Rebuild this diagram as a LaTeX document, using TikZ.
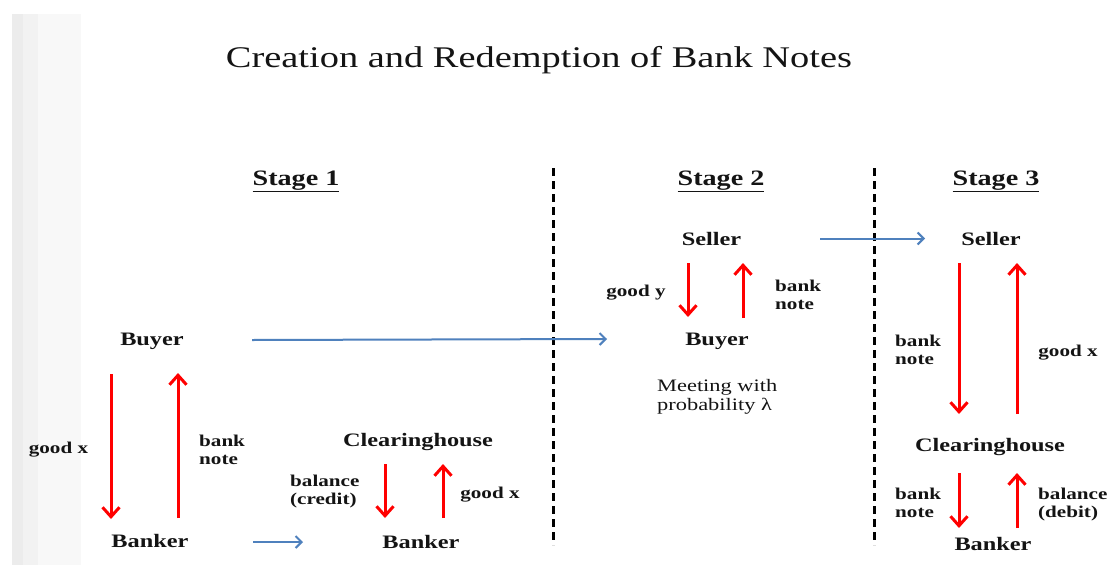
\documentclass[tikz,border=0pt]{standalone}
\usepackage{fontspec}
\setmainfont{Liberation Serif}[FakeStretch=1.28]
\usetikzlibrary{arrows.meta}
\definecolor{redA}{RGB}{255,0,0}
\definecolor{blueA}{RGB}{79,129,189}
\definecolor{stripA}{RGB}{236,236,236}
\definecolor{stripB}{RGB}{242,242,242}
\definecolor{stripC}{RGB}{248,248,248}
\definecolor{inkA}{RGB}{20,20,20}
\begin{document}
\begin{tikzpicture}[x=1pt,y=-1pt,
  lbl/.style={font=\bfseries\fontsize{19}{22}\selectfont, text=inkA, inner sep=0pt},
  sml/.style={font=\bfseries\fontsize{16.5}{18.3}\selectfont, text=inkA, align=left, inner sep=0pt},
  reg/.style={font=\fontsize{17.5}{18.5}\selectfont, text=inkA, align=left, inner sep=0pt},
  stg/.style={font=\bfseries\fontsize{22}{24}\selectfont, text=inkA, inner sep=0pt},
  ttl/.style={font=\fontsize{30}{34}\selectfont, text=inkA, inner sep=0pt},
  rarr/.style={draw=redA, line width=3pt, -{Straight Barb[length=9.5pt,width=17pt,line width=3pt]}},
  barr/.style={draw=blueA, line width=2pt, -{Straight Barb[length=6pt,width=12pt,line width=2pt]}},
  sep/.style={draw=black, line width=3pt, dash pattern=on 8pt off 5pt}
]
\path[use as bounding box] (0,0) rectangle (1110,565);
\fill[white] (0,0) rectangle (1110,565);
% left strip
\fill[stripC] (12,14) rectangle (81,565);
\fill[stripB] (12,14) rectangle (38,565);
\fill[stripA] (12,14) rectangle (23,565);

% title and stage headings
\node[ttl, anchor=base] (title) at (539,67) {Creation and Redemption of Bank Notes};
\node[stg, anchor=base] (st1) at (296,185) {\underline{Stage 1}};
\node[stg, anchor=base] (st2) at (721,185) {\underline{Stage 2}};
\node[stg, anchor=base] (st3) at (996,185) {\underline{Stage 3}};

% separators
\coordinate (sepAt) at (553,168); \coordinate (sepAb) at (553,545);
\coordinate (sepBt) at (874,168); \coordinate (sepBb) at (874,545);
\draw[sep] (sepAt) -- (sepAb);
\draw[sep] (sepBt) -- (sepBb);

% ---- Stage 1
\node[lbl, anchor=base] (buyer1) at (152,345) {Buyer};
\node[lbl, anchor=base] (banker1) at (150,547) {Banker};
\node[lbl, anchor=base] (clear1) at (418,446.5) {Clearinghouse};
\node[lbl, anchor=base] (banker1b) at (421,548) {Banker};
\node[sml, anchor=base] (gx1) at (58.5,453) {good x};
\node[sml, anchor=base west] (bn1) at (199,464.8) {bank\\note};
\node[sml, anchor=base west] (bal1) at (290,504.8) {balance\\(credit)};
\node[sml, anchor=base] (gx1b) at (490,498) {good x};

\coordinate (a1s) at (111,374); \coordinate (a1e) at (111,519);
\coordinate (a2s) at (178,518); \coordinate (a2e) at (178,373);
\coordinate (a3s) at (385,464); \coordinate (a3e) at (385,518);
\coordinate (a4s) at (443,518); \coordinate (a4e) at (443,464);
\draw[rarr] (a1s) -- (a1e);
\draw[rarr] (a2s) -- (a2e);
\draw[rarr] (a3s) -- (a3e);
\draw[rarr] (a4s) -- (a4e);

\coordinate (b1s) at (253,542); \coordinate (b1e) at (303,542);
\draw[barr] (b1s) -- (b1e);

% ---- Stage 2
\node[lbl, anchor=base] (seller2) at (711.5,245) {Seller};
\node[lbl, anchor=base] (buyer2) at (717,345) {Buyer};
\node[sml, anchor=base] (gy2) at (636,296.5) {good y};
\node[sml, anchor=base west] (bn2) at (775,309.8) {bank\\note};
\node[reg, anchor=base west] (meet) at (657,410) {Meeting with\\probability λ};

\coordinate (c1s) at (688,263); \coordinate (c1e) at (688,317);
\coordinate (c2s) at (743,318); \coordinate (c2e) at (743,263);
\draw[rarr] (c1s) -- (c1e);
\draw[rarr] (c2s) -- (c2e);

\coordinate (b2s) at (252,340); \coordinate (b2e) at (607,339);
\draw[barr] (b2s) -- (b2e);
\coordinate (b3s) at (820,238.5); \coordinate (b3e) at (925,238.5);
\draw[barr] (b3s) -- (b3e);

% ---- Stage 3
\node[lbl, anchor=base] (seller3) at (991,245) {Seller};
\node[lbl, anchor=base] (clear3) at (990,451.5) {Clearinghouse};
\node[lbl, anchor=base] (banker3) at (993,550) {Banker};
\node[sml, anchor=base west] (bn3) at (895,364.8) {bank\\note};
\node[sml, anchor=base] (gx3) at (1068,356.5) {good x};
\node[sml, anchor=base west] (bn3b) at (895,517.3) {bank\\note};
\node[sml, anchor=base west] (bal3) at (1038,517.3) {balance\\(debit)};

\coordinate (d1s) at (959,263); \coordinate (d1e) at (959,414);
\coordinate (d2s) at (1017,414); \coordinate (d2e) at (1017,263);
\coordinate (d3s) at (959,473); \coordinate (d3e) at (959,528);
\coordinate (d4s) at (1017,528); \coordinate (d4e) at (1017,473);
\draw[rarr] (d1s) -- (d1e);
\draw[rarr] (d2s) -- (d2e);
\draw[rarr] (d3s) -- (d3e);
\draw[rarr] (d4s) -- (d4e);
\end{tikzpicture}
\end{document}
